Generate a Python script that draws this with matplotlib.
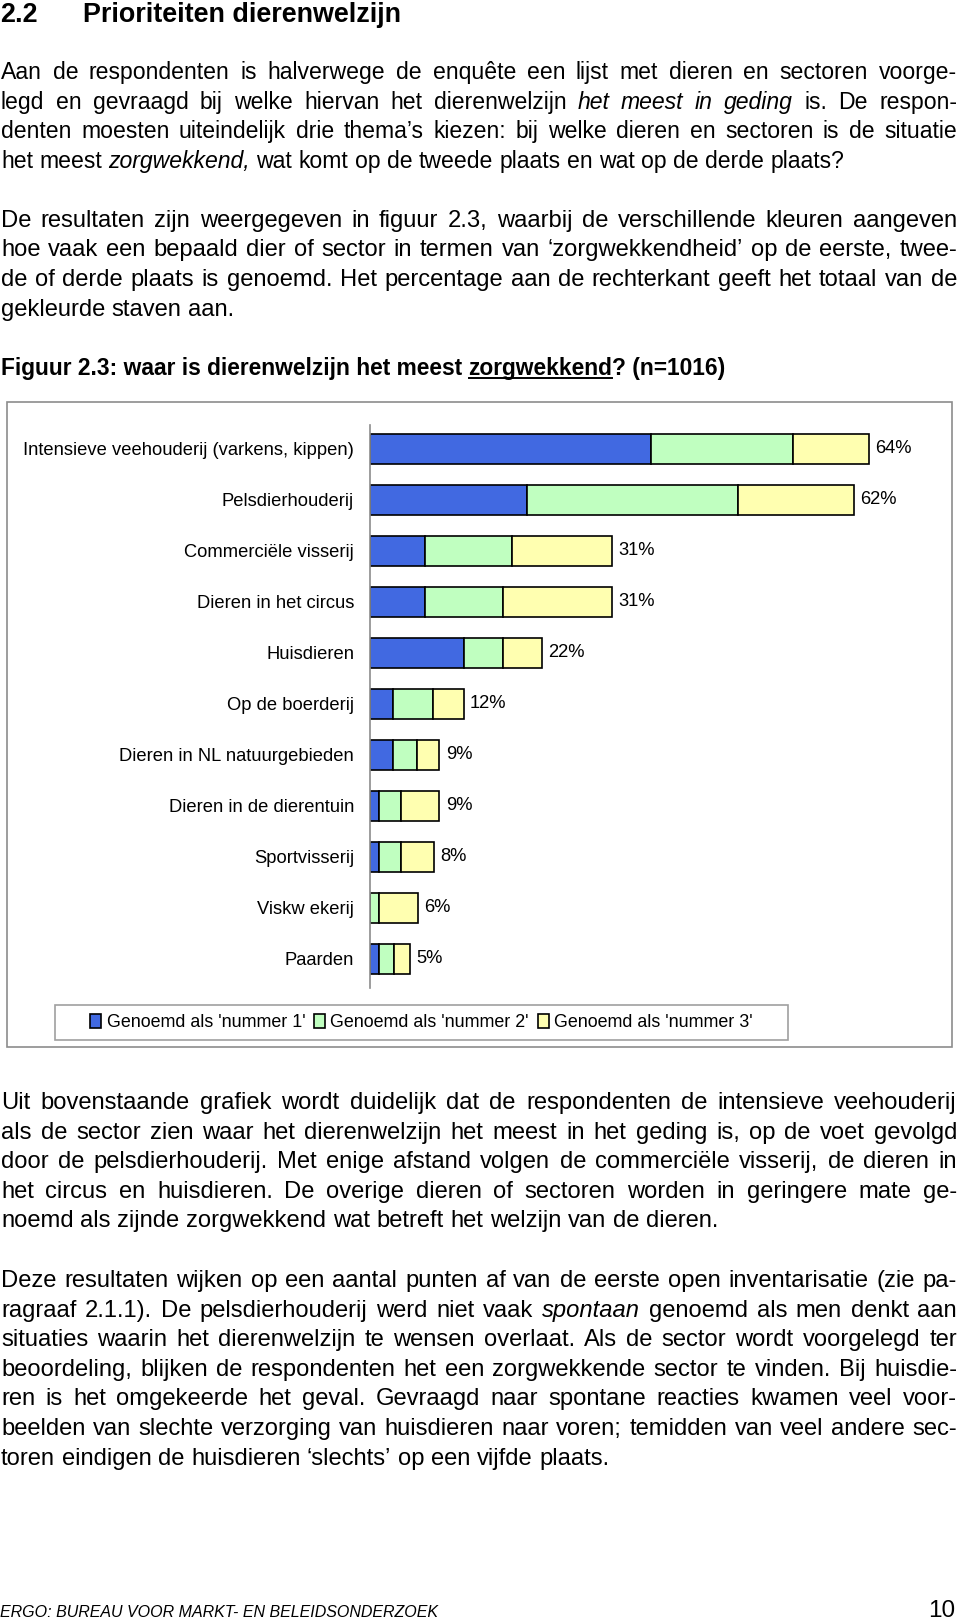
import matplotlib
matplotlib.use("Agg")
import matplotlib.pyplot as plt
from matplotlib.lines import Line2D
from matplotlib.patches import Rectangle

W, H = 960, 1619
FONT = "Liberation Sans"

categories = ["Intensieve veehouderij (varkens, kippen)", "Pelsdierhouderij",
              "Commerciële visserij", "Dieren in het circus", "Huisdieren",
              "Op de boerderij", "Dieren in NL natuurgebieden", "Dieren in de dierentuin",
              "Sportvisserij", "Viskw ekerij", "Paarden"]
nummer1 = [36.0, 20.1, 7.0, 7.0, 12.0, 3.0, 3.0, 1.1, 1.1, 0.0, 1.1]
nummer2 = [18.2, 27.1, 11.2, 10.0, 5.0, 5.1, 3.0, 2.9, 2.9, 1.1, 2.0]
nummer3 = [9.8, 14.8, 12.8, 14.0, 5.0, 3.9, 2.9, 4.9, 4.2, 5.1, 2.0]
totals = ["64%", "62%", "31%", "31%", "22%", "12%", "9%", "9%", "8%", "6%", "5%"]
series_names = ["Genoemd als 'nummer 1'", "Genoemd als 'nummer 2'", "Genoemd als 'nummer 3'"]
colors = ["#4169E1", "#C0FFC0", "#FFFFB0"]

para1 = ["Aan de respondenten is halverwege de enquête een lijst met dieren en sectoren voorge-",
         "legd en gevraagd bij welke hiervan het dierenwelzijn *het *meest *in *geding is. De respon-",
         "denten moesten uiteindelijk drie thema’s kiezen: bij welke dieren en sectoren is de situatie",
         "het meest *zorgwekkend, wat komt op de tweede plaats en wat op de derde plaats?"]
para2 = ["De resultaten zijn weergegeven in figuur 2.3, waarbij de verschillende kleuren aangeven",
         "hoe vaak een bepaald dier of sector in termen van ‘zorgwekkendheid’ op de eerste, twee-",
         "de of derde plaats is genoemd. Het percentage aan de rechterkant geeft het totaal van de",
         "gekleurde staven aan."]
para3 = ["Uit bovenstaande grafiek wordt duidelijk dat de respondenten de intensieve veehouderij",
         "als de sector zien waar het dierenwelzijn het meest in het geding is, op de voet gevolgd",
         "door de pelsdierhouderij. Met enige afstand volgen de commerciële visserij, de dieren in",
         "het circus en huisdieren. De overige dieren of sectoren worden in geringere mate ge-",
         "noemd als zijnde zorgwekkend wat betreft het welzijn van de dieren."]
para4 = ["Deze resultaten wijken op een aantal punten af van de eerste open inventarisatie (zie pa-",
         "ragraaf 2.1.1). De pelsdierhouderij werd niet vaak *spontaan genoemd als men denkt aan",
         "situaties waarin het dierenwelzijn te wensen overlaat. Als de sector wordt voorgelegd ter",
         "beoordeling, blijken de respondenten het een zorgwekkende sector te vinden. Bij huisdie-",
         "ren is het omgekeerde het geval. Gevraagd naar spontane reacties kwamen veel voor-",
         "beelden van slechte verzorging van huisdieren naar voren; temidden van veel andere sec-",
         "toren eindigen de huisdieren ‘slechts’ op een vijfde plaats."]

fig = plt.figure(figsize=(W / 100, H / 100), dpi=100)
renderer = fig.canvas.get_renderer()

LEFT, RIGHT = 1, 957
BODY = 17.1


def fy(y):
    return 1 - y / H


def put(x, y, s, **kw):
    t = fig.text(x / W, fy(y), s, va="baseline", family=FONT, **kw)
    return t, t.get_window_extent(renderer).width


def measure(s, **kw):
    t, w = put(0, 500, s, **kw)
    t.remove()
    return w


def draw_para(lines, baselines, size=BODY):
    space = measure("a a", fontsize=size) - measure("aa", fontsize=size)
    for i, (line, y) in enumerate(zip(lines, baselines)):
        words = line.split(" ")
        last = i == len(lines) - 1
        arts = []
        for w in words:
            style = "italic" if w.startswith("*") else "normal"
            t, wd = put(0, y, w.lstrip("*"), fontsize=size, style=style)
            arts.append((t, wd))
        total = sum(wd for _, wd in arts)
        gap = space if last else (RIGHT - LEFT - total) / (len(arts) - 1)
        x = LEFT
        for t, wd in arts:
            t.set_x(x / W)
            x += wd + gap


# heading
put(0, 22, "2.2", fontsize=19.4, weight="bold")
put(83, 22, "Prioriteiten dierenwelzijn", fontsize=19.4, weight="bold")

draw_para(para1, [79, 108.7, 138.4, 168], size=16.6)
draw_para(para2, [226.7, 256.4, 286, 315.7])

# caption with underlined word
cap_y = 375
CAP = 16.4
_, w1 = put(LEFT, cap_y, "Figuur 2.3: waar is dierenwelzijn het meest ", fontsize=CAP, weight="bold")
_, w2 = put(LEFT + w1, cap_y, "zorgwekkend", fontsize=CAP, weight="bold")
put(LEFT + w1 + w2, cap_y, "? (n=1016)", fontsize=CAP, weight="bold")
fig.add_artist(Line2D([(LEFT + w1) / W, (LEFT + w1 + w2) / W], [fy(cap_y + 3), fy(cap_y + 3)],
                      color="black", lw=1.4))

draw_para(para3, [1109, 1138.5, 1168, 1197.5, 1227])
draw_para(para4, [1287, 1316.6, 1346.2, 1375.8, 1405.4, 1435, 1464.6])

# footer
put(0, 1617, "ERGO: BUREAU VOOR MARKT- EN BELEIDSONDERZOEK", fontsize=11.5, style="italic")
put(955, 1617, "10", fontsize=17.5, ha="right")

# chart frame and legend frame
fig.add_artist(Rectangle((7 / W, fy(1047)), (952 - 7) / W, (1047 - 402) / H,
                         transform=fig.transFigure, fill=False, edgecolor="#8c8c8c", lw=1.2))
fig.add_artist(Rectangle((55 / W, fy(1040)), (788 - 55) / W, (1040 - 1005) / H,
                         transform=fig.transFigure, fill=False, edgecolor="#a0a0a0", lw=1.2))

# chart
x0, px_per = 370, 7.8
ax = fig.add_axes([x0 / W, fy(988), (952 - x0) / W, (988 - 425) / H])
ax.set_xlim(0, (952 - x0) / px_per)
ax.set_ylim(10.57, -0.47)
ax.patch.set_alpha(0)
pos = list(range(len(categories)))
left = [0.0] * len(categories)
handles = []
for vals, col, name in zip([nummer1, nummer2, nummer3], colors, series_names):
    b = ax.barh(pos, vals, left=left, height=0.6, color=col, edgecolor="black", lw=1.2, label=name)
    handles.append(b)
    left = [l + v for l, v in zip(left, vals)]
for i, (tot, lab) in enumerate(zip(left, totals)):
    ax.text(tot + 0.8, i, lab, va="center", ha="left", fontsize=13.2, family=FONT)
ax.set_yticks(pos)
ax.set_yticklabels(categories, fontsize=13.2, family=FONT)
ax.tick_params(axis="y", length=0, pad=11.5)
ax.set_xticks([])
for s in ["top", "right", "bottom"]:
    ax.spines[s].set_visible(False)
ax.spines["left"].set_color("#8c8c8c")
ax.spines["left"].set_linewidth(1.2)

fig.legend(handles=handles, loc="center", bbox_to_anchor=(421.5 / W, fy(1022.5)), ncol=3,
           frameon=False, handlelength=0.6, handleheight=0.8, handletextpad=0.3,
           columnspacing=0.5, prop={"family": FONT, "size": 12.9})

fig.savefig("out.png", dpi=100)
